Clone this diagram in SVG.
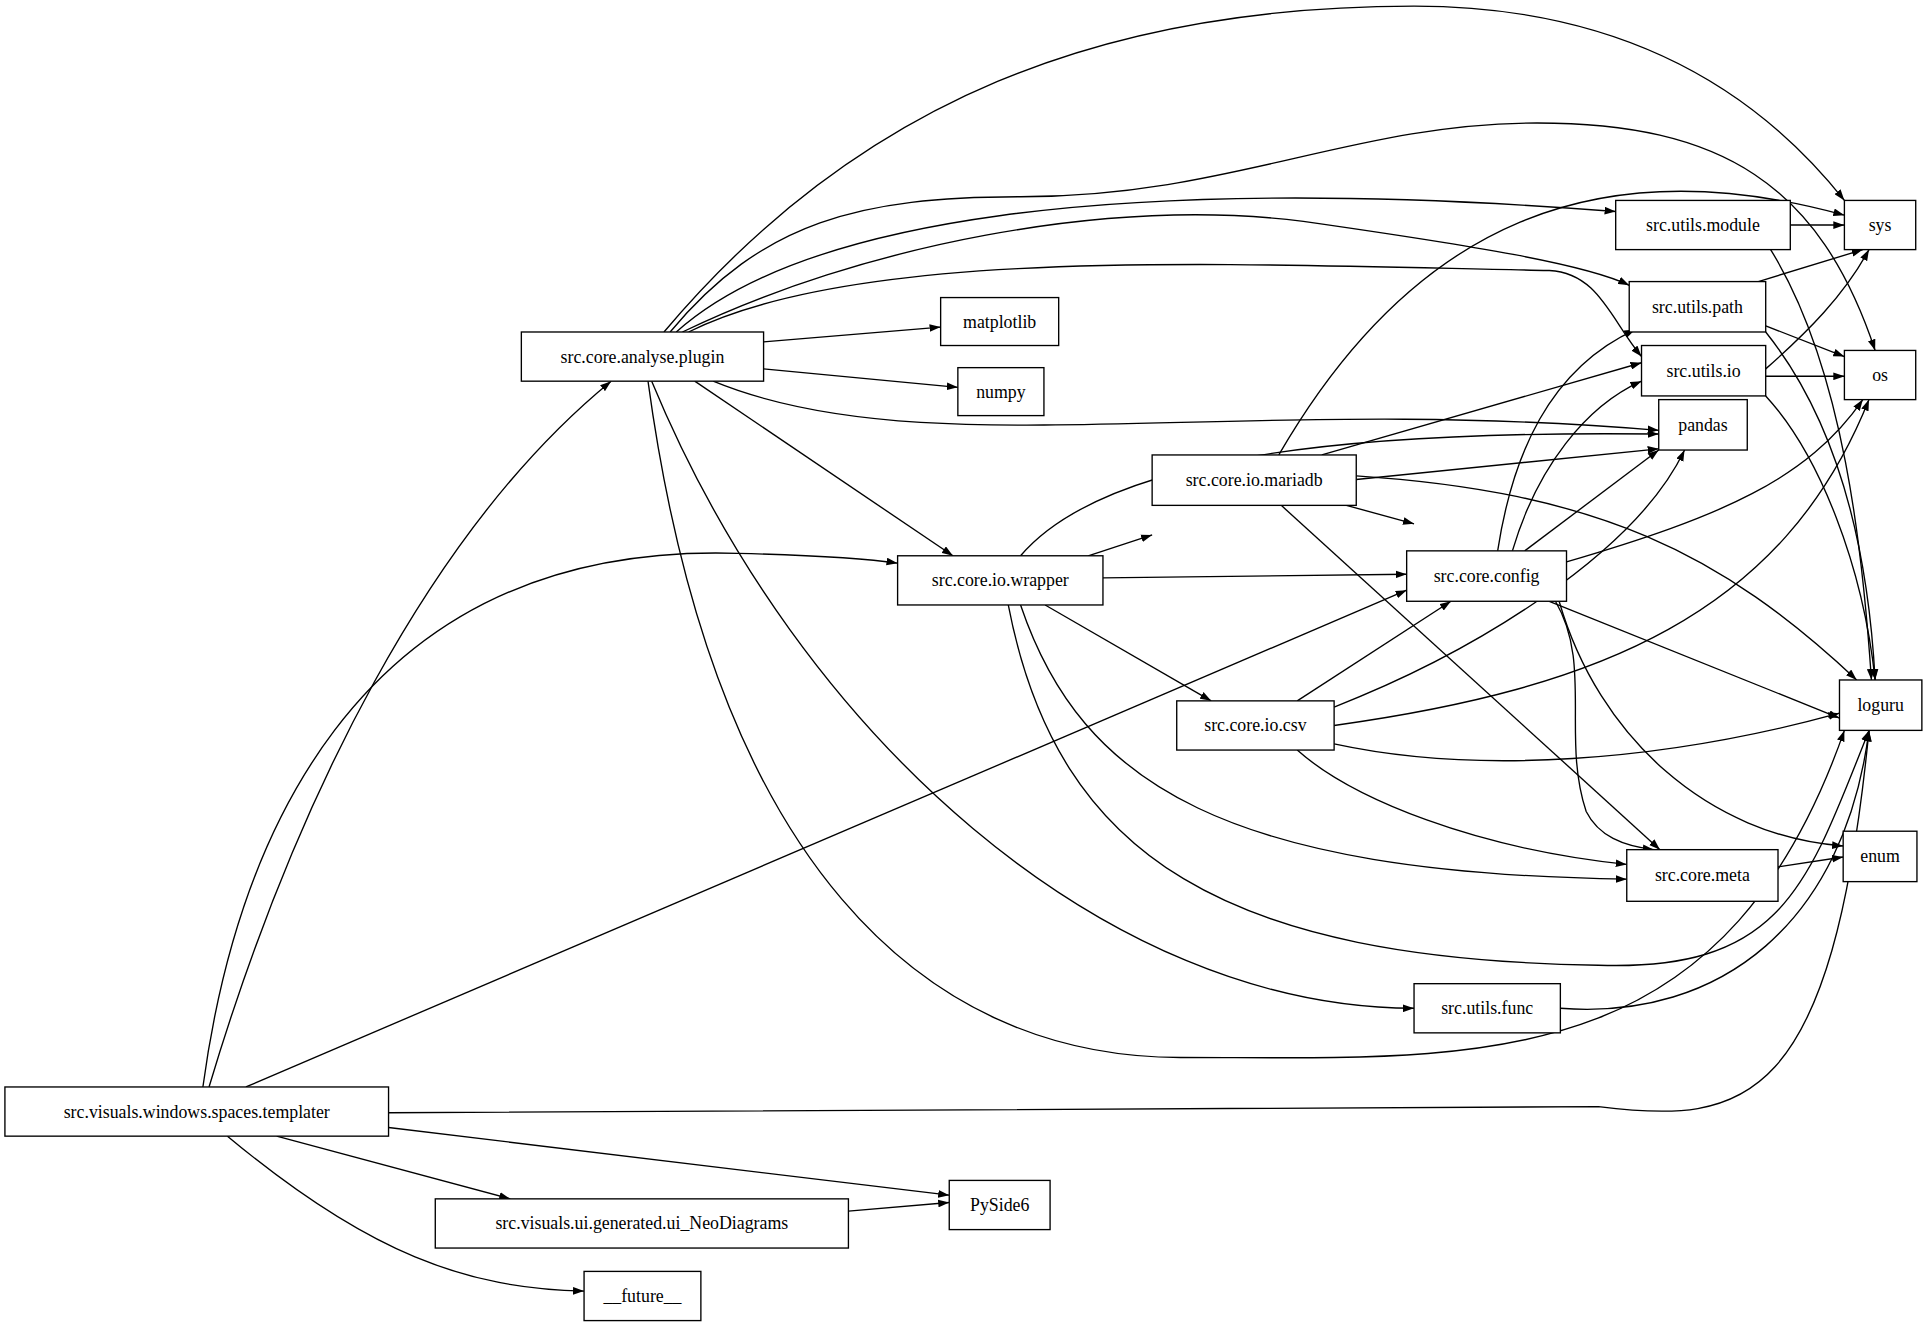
<svg xmlns="http://www.w3.org/2000/svg" width="1928" height="1325" viewBox="0 0 1928 1325">
<style>
.n rect{fill:#fff;stroke:#000;stroke-width:1.1}
.n text{font-family:"Liberation Serif",serif;font-size:14.5px;text-anchor:middle;dominant-baseline:central}
#edges path{fill:none;stroke:#000;stroke-width:1.1;marker-end:url(#a)}
</style>
<defs><marker id="a" viewBox="0 0 10 7" refX="10" refY="3.5" markerWidth="9" markerHeight="6.5" orient="auto" markerUnits="userSpaceOnUse"><path d="M0,0L10,3.5L0,7z" fill="#000"/></marker></defs>
<rect width="1928" height="1325" fill="#fff"/>
<g transform="scale(1.2296)">
<g id="edges">
<path d="M540,270 C700,80 900,5 1150,5 C1350,5 1450,100 1500,163"/>
<path d="M545,270 C620,180 700,160 830,160 C1000,160 1100,100 1250,100 C1400,100 1480,150 1525,285"/>
<path d="M550,270 C650,180 900,140 1314,172"/>
<path d="M555,270 C700,200 900,160 1060,180 C1200,200 1290,215 1325,232"/>
<path d="M560,270 C700,200 1000,215 1260,220 C1300,222 1310,260 1335,290"/>
<path d="M621,278 L765,266"/>
<path d="M621,300 L779,315"/>
<path d="M580,310 C750,380 1000,320 1349,350"/>
<path d="M565,310 L775,452"/>
<path d="M530,310 C650,600 900,820 1150,820"/>
<path d="M527,310 C580,700 750,860 960,860 C1200,860 1400,880 1500,594"/>
<path d="M830,452 C900,370 1100,350 1349,353"/>
<path d="M885,452 L937,435"/>
<path d="M897,470 L1144,467"/>
<path d="M850,492 L985,570"/>
<path d="M830,492 C880,640 1000,710 1323,715"/>
<path d="M820,492 C860,700 1000,780 1300,785 C1450,790 1470,720 1520,594"/>
<path d="M1040,370 C1150,180 1300,120 1500,175"/>
<path d="M1075,370 L1335,295"/>
<path d="M1103,390 L1349,365"/>
<path d="M1095,411 L1150,426"/>
<path d="M1103,387 C1300,400 1400,450 1510,553"/>
<path d="M1042,411 L1350,691"/>
<path d="M1218,448 C1230,370 1260,300 1330,268"/>
<path d="M1230,448 C1250,380 1290,330 1335,310"/>
<path d="M1240,448 L1349,366"/>
<path d="M1274,457 C1400,420 1470,390 1515,325"/>
<path d="M1260,489 L1496,584"/>
<path d="M1265,489 C1295,540 1270,600 1290,660 C1300,680 1320,688 1345,691"/>
<path d="M1268,489 C1300,600 1390,680 1499,688"/>
<path d="M1055,570 L1180,489"/>
<path d="M1085,575 C1200,530 1330,450 1370,366"/>
<path d="M1085,590 C1300,560 1450,500 1520,325"/>
<path d="M1085,605 C1200,630 1350,620 1496,580"/>
<path d="M1055,610 C1100,650 1200,690 1323,703"/>
<path d="M1456,183 L1500,183"/>
<path d="M1440,203 C1500,300 1515,450 1522,553"/>
<path d="M1430,229 L1515,203"/>
<path d="M1436,265 L1500,290"/>
<path d="M1436,270 C1500,350 1520,460 1525,553"/>
<path d="M1436,300 C1470,270 1500,240 1520,203"/>
<path d="M1436,306 L1500,306"/>
<path d="M1436,322 C1480,370 1515,460 1525,553"/>
<path d="M1446,705 L1499,697"/>
<path d="M1269,820 C1400,830 1500,750 1520,594"/>
<path d="M170,884 C240,650 350,430 497,310"/>
<path d="M165,884 C190,700 280,440 600,450 C680,452 710,455 730,458"/>
<path d="M200,884 L1144,480"/>
<path d="M316,905 C700,905 1000,900 1300,900 C1420,915 1490,900 1520,594"/>
<path d="M316,917 L772,972"/>
<path d="M225,924 L415,975"/>
<path d="M185,924 C300,1020 380,1048 475,1050"/>
<path d="M690,985 L772,978"/>
</g>
<g id="plugin" class="n"><rect x="424" y="270" width="197" height="40"/><text x="522.5" y="290">src.core.analyse.plugin</text></g>
<g id="matplotlib" class="n"><rect x="765" y="242" width="96" height="39"/><text x="813" y="261.5">matplotlib</text></g>
<g id="numpy" class="n"><rect x="779" y="299" width="70" height="39"/><text x="814" y="318.5">numpy</text></g>
<g id="sys" class="n"><rect x="1500" y="163" width="58" height="40"/><text x="1529" y="183">sys</text></g>
<g id="module" class="n"><rect x="1314" y="163" width="142" height="40"/><text x="1385" y="183">src.utils.module</text></g>
<g id="path" class="n"><rect x="1325" y="229" width="111" height="41"/><text x="1380.5" y="249.5">src.utils.path</text></g>
<g id="io" class="n"><rect x="1335" y="281" width="101" height="41"/><text x="1385.5" y="301.5">src.utils.io</text></g>
<g id="os" class="n"><rect x="1500" y="285" width="58" height="40"/><text x="1529" y="305">os</text></g>
<g id="pandas" class="n"><rect x="1349" y="325" width="72" height="41"/><text x="1385" y="345.5">pandas</text></g>
<g id="mariadb" class="n"><rect x="937" y="370" width="166" height="41"/><text x="1020" y="390.5">src.core.io.mariadb</text></g>
<g id="config" class="n"><rect x="1144" y="448" width="130" height="41"/><text x="1209" y="468.5">src.core.config</text></g>
<g id="wrapper" class="n"><rect x="730" y="452" width="167" height="40"/><text x="813.5" y="472">src.core.io.wrapper</text></g>
<g id="csv" class="n"><rect x="957" y="570" width="128" height="40"/><text x="1021" y="590">src.core.io.csv</text></g>
<g id="loguru" class="n"><rect x="1496" y="553" width="67" height="41"/><text x="1529.5" y="573.5">loguru</text></g>
<g id="enum" class="n"><rect x="1499" y="676" width="60" height="41"/><text x="1529" y="696.5">enum</text></g>
<g id="meta" class="n"><rect x="1323" y="691" width="123" height="42"/><text x="1384.5" y="712">src.core.meta</text></g>
<g id="func" class="n"><rect x="1150" y="800" width="119" height="40"/><text x="1209.5" y="820">src.utils.func</text></g>
<g id="templater" class="n"><rect x="4" y="884" width="312" height="40"/><text x="160" y="904">src.visuals.windows.spaces.templater</text></g>
<g id="neo" class="n"><rect x="354" y="975" width="336" height="40"/><text x="522" y="995">src.visuals.ui.generated.ui_NeoDiagrams</text></g>
<g id="pyside" class="n"><rect x="772" y="960" width="82" height="40"/><text x="813" y="980">PySide6</text></g>
<g id="future" class="n"><rect x="475" y="1034" width="95" height="40"/><text x="522.5" y="1054">__future__</text></g>
</g>
</svg>
